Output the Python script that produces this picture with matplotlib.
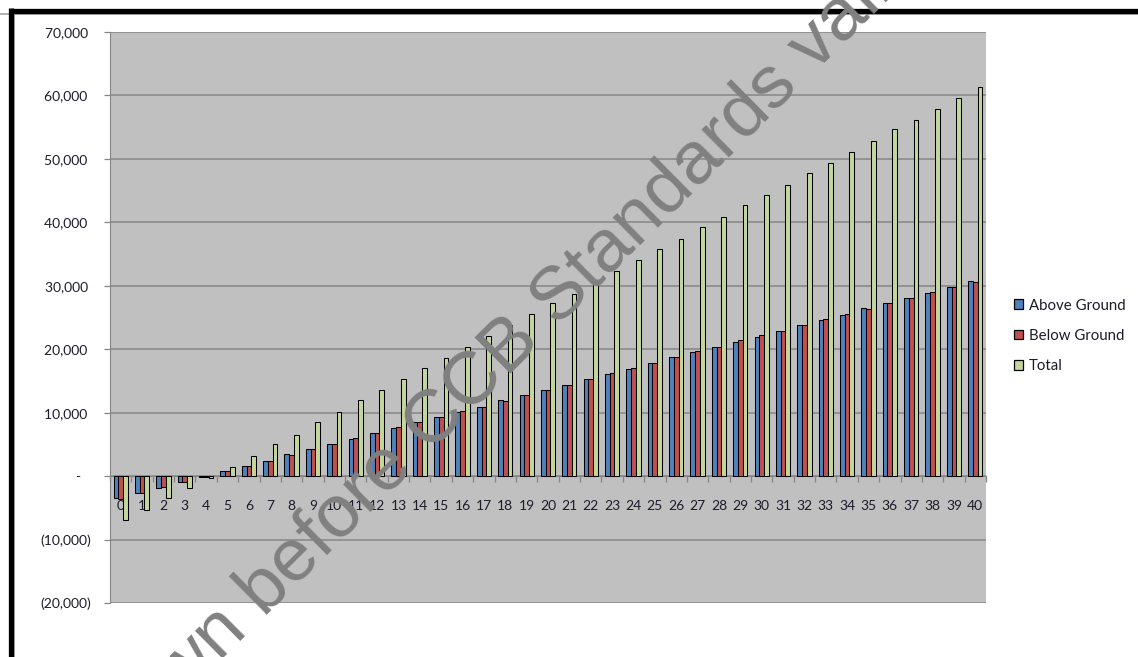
import numpy as np
import matplotlib
matplotlib.use("Agg")
import matplotlib.pyplot as plt
from matplotlib.lines import Line2D
from matplotlib.ticker import FuncFormatter, FixedLocator

# annual carbon balance per year (tonnes)
years = list(range(0, 41))
above_ground = [-3500, -2600, -1800, -900, -100, 790, 1580, 2370, 3420, 4260,
                5050, 5890, 6830, 7620, 8470, 9300, 10100, 10950, 11940, 12730,
                13560, 14350, 15350, 16150, 16850, 17750, 18700, 19530, 20320, 21170,
                21950, 22950, 23790, 24570, 25420, 26420, 27210, 28100, 28900, 29730,
                30680]
below_ground = [-3550, -2700, -1750, -1000, -100, 760, 1600, 2450, 3300, 4260,
                5050, 5950, 6750, 7700, 8500, 9300, 10200, 10950, 11900, 12750,
                13650, 14300, 15300, 16200, 17000, 17900, 18700, 19650, 20400, 21400,
                22200, 22950, 23850, 24700, 25550, 26400, 27300, 28100, 28950, 29850,
                30650]
total = [-6940, -5360, -3520, -1950, -250, 1500, 3200, 5000, 6550, 8520,
         10100, 11940, 13500, 15350, 16980, 18600, 20400, 22030, 23820, 25500,
         27260, 28650, 30600, 32400, 34000, 35800, 37400, 39250, 40800, 42700,
         44300, 45900, 47700, 49350, 51100, 52800, 54650, 56200, 57850, 59650,
         61300]
series_names = ["Above Ground", "Below Ground", "Total"]
series_colors = ["#4F81BD", "#C0504D", "#C4D79B"]

plt.rcParams['font.family'] = ['Lato', 'DejaVu Sans']
text_col = "#1c1c2a"
grid_col = "#868686"

fig = plt.figure(figsize=(11.38, 6.57), dpi=100)
fig.patch.set_facecolor("white")
ax = fig.add_axes([110 / 1138, 1 - 603 / 657, 876 / 1138, 571 / 657])
ax.set_facecolor("#C0C0C0")

x = np.arange(len(years))
w = 1 / 4.5
for k, (vals, name, col) in enumerate(zip([above_ground, below_ground, total],
                                          series_names, series_colors)):
    ax.bar(x + (k - 1) * w, vals, width=w, color=col, edgecolor="black",
           linewidth=0.75, label=name, zorder=3)

ax.set_xlim(-0.5, len(years) - 0.5)
ax.set_ylim(-20000, 70000)
ax.set_yticks(np.arange(-20000, 70001, 10000))


def acct(v, pos):
    if v == 0:
        return "-   "
    if v < 0:
        return "({:,.0f})".format(-v)
    return "{:,.0f} ".format(v)


ax.yaxis.set_major_formatter(FuncFormatter(acct))
ax.yaxis.grid(True, color=grid_col, linewidth=1.1, zorder=1)
ax.set_axisbelow(True)

# category axis sits on the zero line
ax.spines['bottom'].set_position(('data', 0))
ax.spines['bottom'].set_color(grid_col)
ax.spines['left'].set_color(grid_col)
ax.spines['top'].set_visible(False)
ax.spines['right'].set_visible(False)
ax.xaxis.set_major_locator(FixedLocator(np.arange(-0.5, len(years), 1.0)))
ax.xaxis.set_minor_locator(FixedLocator(x))
ax.xaxis.set_major_formatter(FuncFormatter(lambda v, p: ""))
ax.xaxis.set_minor_formatter(FuncFormatter(lambda v, p: str(years[int(round(v))])))
ax.tick_params(axis='x', which='major', direction='out', length=4.5,
               color=grid_col, width=0.9)
ax.tick_params(axis='x', which='minor', length=0, pad=17, labelsize=10,
               labelcolor=text_col)
ax.tick_params(axis='y', direction='out', length=4.5, color=grid_col, width=0.9,
               pad=9, labelsize=10, labelcolor=text_col)

leg = fig.legend(loc='center left', bbox_to_anchor=(1014 / 1138, 1 - 336 / 657),
                 frameon=False, fontsize=10.8, handlelength=0.6, handleheight=0.6,
                 handletextpad=0.4, labelspacing=1.1, borderpad=0,
                 borderaxespad=0, labelcolor=text_col)
for h in leg.legend_handles:
    h.set_linewidth(0.9)

# frame lines along top and left of the chart object
fig.add_artist(Line2D([0, 1], [1 - 14 / 657, 1 - 14 / 657], color="#b0b0b0",
                      linewidth=1.4, transform=fig.transFigure))
fig.add_artist(Line2D([14 / 1138, 14 / 1138], [0, 1 - 10.7 / 657], color="#b0b0b0",
                      linewidth=1.4, transform=fig.transFigure))
fig.add_artist(Line2D([10.7 / 1138, 1], [1 - 10.7 / 657, 1 - 10.7 / 657],
                      color="black", linewidth=3.8, solid_capstyle='butt',
                      transform=fig.transFigure))
fig.add_artist(Line2D([10.7 / 1138, 10.7 / 1138], [0, 1 - 8.3 / 657],
                      color="black", linewidth=3.8, solid_capstyle='butt',
                      transform=fig.transFigure))

# diagonal watermark over the chart
fig.text(86 / 1138, 1 - 793.4 / 657, "Shown before CCB Standards validation",
         fontsize=54, family="Liberation Sans", color="#808080",
         rotation=44.7, rotation_mode='anchor', ha='left', va='baseline',
         zorder=10)

fig.savefig("out.png", dpi=100)
